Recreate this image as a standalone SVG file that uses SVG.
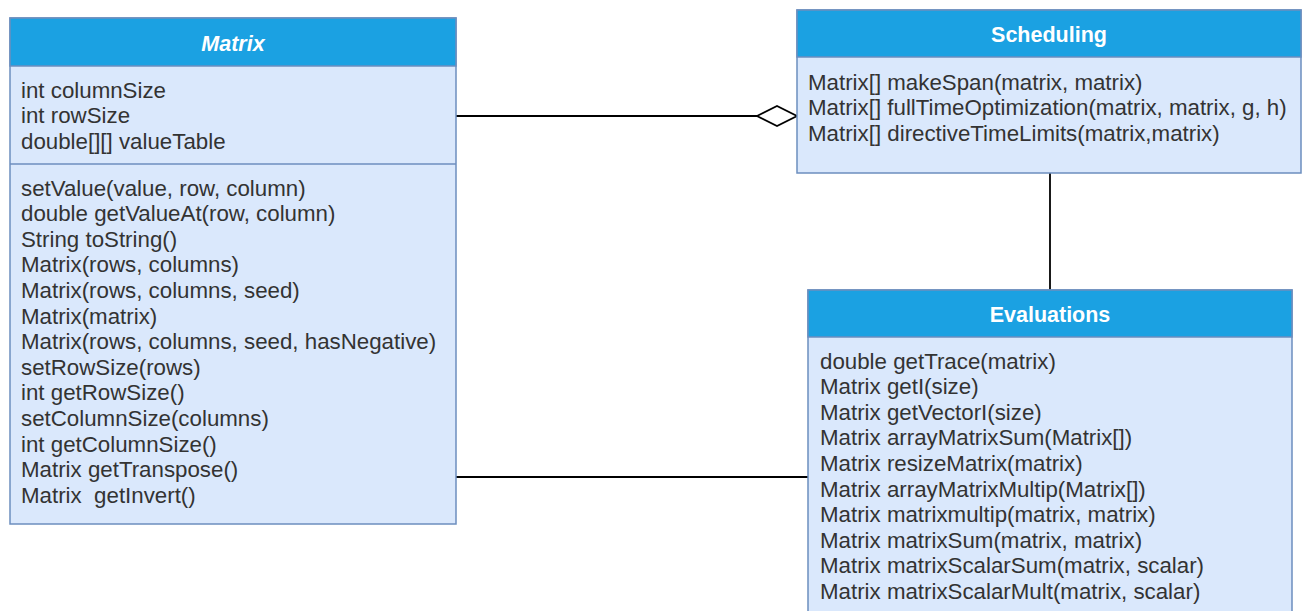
<svg xmlns="http://www.w3.org/2000/svg" width="1306" height="611" viewBox="0 0 1306 611">
  <style>
    .hdr { fill: #1ba1e2; stroke: #6c8ebf; stroke-width: 1.5; }
    .body { fill: #dae8fc; stroke: #6c8ebf; stroke-width: 1.5; }
    .div { stroke: #6c8ebf; stroke-width: 1.5; }
    .title { font-family: "Liberation Sans", Arial, sans-serif; font-size: 21.5px; font-weight: bold; fill: #ffffff; text-anchor: middle; }
    .member { font-family: "Liberation Sans", Arial, sans-serif; font-size: 22.3px; fill: #333333; }
    .edge { stroke: #000000; stroke-width: 1.8; fill: none; }
  </style>
  <defs>
    <marker id="aggregation" markerWidth="44" markerHeight="24" refX="42" refY="12" orient="auto" markerUnits="userSpaceOnUse">
      <path d="M 2 12 L 22 2 L 42 12 L 22 22 Z" fill="#ffffff" stroke="#000000" stroke-width="1.8"/>
    </marker>
  </defs>
  <rect width="1306" height="611" fill="#ffffff"/>

  <!-- relationships -->
  <g id="connectors">
    <path class="edge" d="M 456 116 L 797 116" marker-end="url(#aggregation)"/>
    <path class="edge" d="M 1050 173 L 1050 290"/>
    <path class="edge" d="M 456 477 L 808 477"/>
  </g>

  <!-- Matrix class -->
  <g id="matrix">
    <rect class="body" x="10" y="18" width="446" height="506"/>
    <rect class="hdr" x="10" y="18" width="446" height="48"/>
    <text class="title" x="233" y="50.5" font-style="italic">Matrix</text>
    <line class="div" x1="10" y1="164" x2="456" y2="164"/>
    <g class="member">
      <text x="21" y="97.5">int columnSize</text>
      <text x="21" y="123.1">int rowSize</text>
      <text x="21" y="148.7">double[][] valueTable</text>
      <text x="21" y="195.5">setValue(value, row, column)</text>
      <text x="21" y="221.1">double getValueAt(row, column)</text>
      <text x="21" y="246.7">String toString()</text>
      <text x="21" y="272.3">Matrix(rows, columns)</text>
      <text x="21" y="297.9">Matrix(rows, columns, seed)</text>
      <text x="21" y="323.5">Matrix(matrix)</text>
      <text x="21" y="349.1">Matrix(rows, columns, seed, hasNegative)</text>
      <text x="21" y="374.7">setRowSize(rows)</text>
      <text x="21" y="400.3">int getRowSize()</text>
      <text x="21" y="425.9">setColumnSize(columns)</text>
      <text x="21" y="451.5">int getColumnSize()</text>
      <text x="21" y="477.1">Matrix getTranspose()</text>
      <text x="21" y="502.7" xml:space="preserve">Matrix  getInvert()</text>
    </g>
  </g>

  <!-- Scheduling class -->
  <g id="scheduling">
    <rect class="body" x="797" y="10" width="504" height="163"/>
    <rect class="hdr" x="797" y="10" width="504" height="47"/>
    <text class="title" x="1049" y="41.5">Scheduling</text>
    <g class="member">
      <text x="808" y="89.5">Matrix[] makeSpan(matrix, matrix)</text>
      <text x="808" y="115.1">Matrix[] fullTimeOptimization(matrix, matrix, g, h)</text>
      <text x="808" y="140.7">Matrix[] directiveTimeLimits(matrix,matrix)</text>
    </g>
  </g>

  <!-- Evaluations class -->
  <g id="evaluations">
    <rect class="body" x="808" y="290" width="484" height="340"/>
    <rect class="hdr" x="808" y="290" width="484" height="47"/>
    <text class="title" x="1050" y="321.5">Evaluations</text>
    <g class="member">
      <text x="820" y="368.5">double getTrace(matrix)</text>
      <text x="820" y="394.1">Matrix getI(size)</text>
      <text x="820" y="419.7">Matrix getVectorI(size)</text>
      <text x="820" y="445.3">Matrix arrayMatrixSum(Matrix[])</text>
      <text x="820" y="470.9">Matrix resizeMatrix(matrix)</text>
      <text x="820" y="496.5">Matrix arrayMatrixMultip(Matrix[])</text>
      <text x="820" y="522.1">Matrix matrixmultip(matrix, matrix)</text>
      <text x="820" y="547.7">Matrix matrixSum(matrix, matrix)</text>
      <text x="820" y="573.3">Matrix matrixScalarSum(matrix, scalar)</text>
      <text x="820" y="598.9">Matrix matrixScalarMult(matrix, scalar)</text>
    </g>
  </g>
</svg>
